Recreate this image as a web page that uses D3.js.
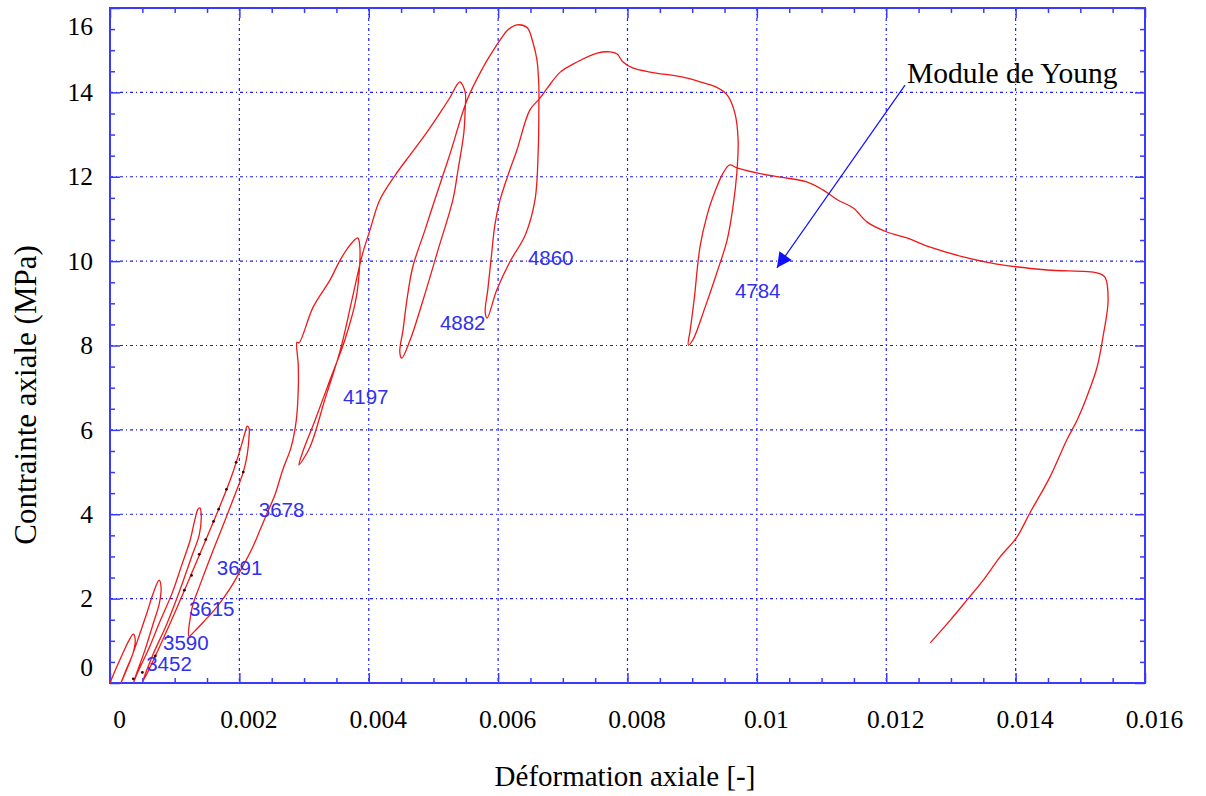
<!DOCTYPE html>
<html><head><meta charset="utf-8">
<script src="https://cdn.jsdelivr.net/npm/d3@7"></script>
<style>body{margin:0;background:#fff}</style>
</head><body>
<svg id="c" width="1206" height="796"></svg>
<script>
// ---- data ----
const xMajorTicks = [0,0.002,0.004,0.006,0.008,0.01,0.012,0.014,0.016];
const yMajorTicks = [0,2,4,6,8,10,12,14,16];
const xTitle = "Déformation axiale [-]";
const yTitle = "Contrainte axiale (MPa)";

const strain = [0,0.00009,0.00020,0.00029,0.00036,0.00039,0.00036,0.00028,0.00017,0.00023,0.00034,0.00046,0.00057,0.00066,0.00073,0.00076,
0.00079,0.00076,0.00066,0.00054,0.00043,0.00036,0.00043,0.00059,0.00077,0.00096,0.00111,0.00124,0.00131,0.00136,0.00139,
0.00141,0.00138,0.00127,0.00108,0.00087,0.00066,0.00051,0.00060,0.00080,0.00104,0.00127,0.00150,0.00172,0.00189,0.00201,0.00209,0.00212,0.00215,
0.00215,0.00212,0.00206,0.00190,0.00173,0.00156,0.00139,0.00128,0.00124,0.00122,
0.00131,0.00147,0.00165,0.00186,0.00204,0.00220,0.00232,0.00243,0.00255,0.00267,0.00280,0.00288,0.00291,0.00291,0.00289,
0.00292,0.00314,0.00340,0.00356,0.00371,0.00383,
0.00386,0.00386,0.00380,0.00363,0.00340,0.00317,0.00298,0.00292,
0.00309,0.00332,0.00356,0.00374,0.00390,0.00402,0.00417,0.00441,0.00464,0.00487,0.00510,0.00526,0.00536,0.00541,
0.00549,0.00549,0.00547,0.00538,0.00530,0.00507,0.00484,0.00464,0.00451,
0.00448,0.00453,0.00459,0.00468,0.00487,0.00502,0.00526,0.00552,0.00577,0.00591,0.00603,0.00615,0.00629,
0.00645,0.00654,0.00660,0.00663,0.00663,0.00662,0.00657,0.00642,0.00618,0.00598,0.00583,
0.00580,0.00584,0.00589,0.00595,0.00603,0.00618,0.00629,0.00649,0.00665,0.00676,0.00696,0.00722,0.00753,0.00773,0.00784,0.00793,0.00808,0.00835,0.00886,0.00912,0.00938,0.00954,0.00966,0.00971,
0.00969,0.00963,0.00954,0.00938,0.00920,0.00901,0.00894,
0.00897,0.00903,0.00912,0.00923,0.00932,0.00948,0.00958,0.00969,0.01000,0.01036,0.01077,0.01102,0.01125,0.01149,0.01170,0.01201,0.01232,0.01268,0.01319,0.01371,0.01449,0.01526,0.01538,
0.01543,0.01535,0.01526,0.01510,0.01495,0.01479,0.01453,0.01422,0.01402,0.01376,0.01350,0.01325,0.01299,0.01268];

const stress = [0,0.33,0.71,1.00,1.16,1.02,0.73,0.40,0,0.24,0.64,1.16,1.66,2.09,2.37,2.44,
2.25,1.87,1.37,0.78,0.31,0,0.26,0.78,1.45,2.13,2.80,3.39,3.86,4.12,4.15,
3.98,3.51,3.03,2.20,1.37,0.66,0.05,0.31,0.97,1.80,2.63,3.46,4.27,4.95,5.52,5.95,6.09,6.04,
5.85,5.40,5.00,4.34,3.67,3.01,2.32,1.85,1.54,1.11,
1.23,1.49,1.80,2.25,2.73,3.20,3.63,4.03,4.46,5.05,5.59,6.23,6.95,7.54,8.08,
8.06,8.91,9.55,10.03,10.38,10.55,
10.38,9.91,9.08,8.13,7.18,6.23,5.48,5.17,
5.59,6.71,7.89,9.08,10.15,10.74,11.45,12.04,12.52,12.99,13.51,13.89,14.17,14.25,
14.01,13.58,13.04,12.16,11.45,10.26,9.08,8.13,7.70,
7.85,8.37,9.08,9.86,10.74,11.45,12.56,13.82,14.60,14.96,15.24,15.48,15.60,
15.53,15.17,14.77,14.12,13.65,12.63,11.45,10.62,9.98,9.32,8.65,
8.79,9.32,10.03,10.86,11.45,12.16,12.63,13.58,13.87,14.10,14.48,14.72,14.93,14.96,14.91,14.72,14.58,14.48,14.36,14.25,14.12,13.94,13.51,12.87,
12.09,11.28,10.50,9.72,8.91,8.13,8.01,
8.37,9.08,10.33,11.09,11.52,12.09,12.28,12.21,12.09,11.99,11.88,11.69,11.45,11.26,10.93,10.69,10.55,10.33,10.10,9.93,9.79,9.72,9.62,
9.08,8.20,7.49,6.78,6.23,5.76,4.88,4.03,3.46,2.99,2.44,1.97,1.49,0.95];

// dark measurement points visible on the dense reloading branch
const markStrain = [0.00036,0.00050,0.00070,0.00090,0.00115,0.00126,0.00138,0.00148,0.00160,0.00168,0.00180,0.00195,0.00206];
const markStress = [0.10,0.25,0.64,1.10,2.20,2.55,3.05,3.40,3.83,4.12,4.59,5.23,5.00];

// Young's modulus labels for each loop (MPa)
const modulusText   = ["3452","3590","3615","3691","3678","4197","4882","4860","4784"];
const modulusStrain = [0.00056,0.00082,0.00122,0.00165,0.00230,0.00360,0.00510,0.00646,0.00966];
const modulusStress = [0.28,0.78,1.59,2.56,3.93,6.61,8.37,9.91,9.13];

const noteText = "Module de Young";
const noteAt = [0.01232, 14.22];
const arrowFrom = [0.01229, 14.17];
const arrowTo = [0.01031, 9.84];

// ---- layout ----
const L=110, R=1145, T=8, B=683;
const svg = d3.select("#c");
const x = d3.scaleLinear().domain([0,0.016]).range([L,R]);
const y = d3.scaleLinear().domain([0,16]).range([B,T]);
const frameColor = "#3a3aff", gridColor = "#1a1aff";
const serif = "'Liberation Serif','Times New Roman',serif";

const xMinor = d3.range(0,0.0160001,0.0005).filter(v=>!xMajorTicks.some(t=>Math.abs(t-v)<1e-9));
const yMinor = d3.range(0,16.0001,0.5).filter(v=>!yMajorTicks.some(t=>Math.abs(t-v)<1e-9));

// gridlines
const g = svg.append("g");
g.selectAll(".vg").data(xMajorTicks.slice(1,-1)).join("line")
  .attr("x1",d=>x(d)).attr("x2",d=>x(d)).attr("y1",T).attr("y2",B)
  .attr("stroke",gridColor).attr("stroke-width",1.2).attr("stroke-dasharray","3,3,1,3");
g.selectAll(".hg").data(yMajorTicks.slice(1,-1)).join("line")
  .attr("y1",d=>y(d)).attr("y2",d=>y(d)).attr("x1",L).attr("x2",R)
  .attr("stroke",gridColor).attr("stroke-width",1.2).attr("stroke-dasharray","3,3,1,3");

// axes ticks (inward) on all four sides
function styleAxis(sel){ sel.select(".domain").remove(); sel.selectAll("line").attr("stroke",frameColor).attr("stroke-width",1.5); }
svg.append("g").attr("transform",`translate(0,${B})`).call(d3.axisBottom(x).tickValues(xMinor).tickSize(-5).tickFormat("")).call(styleAxis);
svg.append("g").attr("transform",`translate(0,${T})`).call(d3.axisTop(x).tickValues(xMinor).tickSize(-5).tickFormat("")).call(styleAxis);
svg.append("g").attr("transform",`translate(0,${T})`).call(d3.axisTop(x).tickValues(xMajorTicks).tickSize(-10).tickFormat("")).call(styleAxis);
svg.append("g").attr("transform",`translate(${L},0)`).call(d3.axisLeft(y).tickValues(yMinor).tickSize(-5).tickFormat("")).call(styleAxis);
svg.append("g").attr("transform",`translate(${R},0)`).call(d3.axisRight(y).tickValues(yMinor).tickSize(-5).tickFormat("")).call(styleAxis);
svg.append("g").attr("transform",`translate(${R},0)`).call(d3.axisRight(y).tickValues(yMajorTicks).tickSize(-10).tickFormat("")).call(styleAxis);

const xAx = svg.append("g").attr("transform",`translate(0,${B})`)
  .call(d3.axisBottom(x).tickValues(xMajorTicks).tickSizeInner(-10).tickSizeOuter(0).tickPadding(27).tickFormat(d3.format("~g")))
  .call(styleAxis);
xAx.selectAll("text").attr("font-family",serif).attr("font-size",25.5).attr("fill","#000").attr("dx",9);

const yAx = svg.append("g").attr("transform",`translate(${L},0)`)
  .call(d3.axisLeft(y).tickValues(yMajorTicks).tickSizeInner(-10).tickSizeOuter(0).tickPadding(17))
  .call(styleAxis);
yAx.selectAll("text").attr("font-family",serif).attr("font-size",25.5).attr("fill","#000")
  .attr("dy",d=> d===16 ? "1.05em" : d===0 ? "-0.3em" : "0.32em");

// frame
svg.append("rect").attr("x",L).attr("y",T).attr("width",R-L).attr("height",B-T)
  .attr("fill","none").attr("stroke",frameColor).attr("stroke-width",2);

// curve
const pts = strain.map((s,i)=>[s,stress[i]]);
svg.append("path").datum(pts)
  .attr("d",d3.line().x(d=>x(d[0])).y(d=>y(d[1])).curve(d3.curveCatmullRom.alpha(0.5)))
  .attr("fill","none").attr("stroke","#f01818").attr("stroke-width",1.3).attr("stroke-linejoin","round");

svg.selectAll(".mk").data(markStrain).join("circle")
  .attr("cx",d=>x(d)).attr("cy",(d,i)=>y(markStress[i])).attr("r",1.4).attr("fill","#400000");

// modulus labels
svg.selectAll(".ml").data(modulusText).join("text")
  .attr("x",(d,i)=>x(modulusStrain[i])).attr("y",(d,i)=>y(modulusStress[i]))
  .attr("font-family","'Liberation Sans',Arial,sans-serif").attr("font-size",20.5)
  .attr("fill","#3030ee").text(d=>d);

// annotation
svg.append("defs").append("marker").attr("id","ah").attr("viewBox","0 0 10 10")
  .attr("refX",10).attr("refY",5).attr("markerWidth",22).attr("markerHeight",15).attr("markerUnits","userSpaceOnUse")
  .attr("orient","auto").append("path").attr("d","M0,0 L10,5 L0,10 z").attr("fill","#1010ff");
svg.append("line").attr("x1",x(arrowFrom[0])).attr("y1",y(arrowFrom[1]))
  .attr("x2",x(arrowTo[0])).attr("y2",y(arrowTo[1]))
  .attr("stroke","#1010ff").attr("stroke-width",1.2).attr("marker-end","url(#ah)");
svg.append("text").attr("x",x(noteAt[0])).attr("y",y(noteAt[1]))
  .attr("font-family",serif).attr("font-size",29.5).attr("fill","#000").text(noteText);

// titles
svg.append("text").attr("x",625).attr("y",786).attr("text-anchor","middle")
  .attr("font-family",serif).attr("font-size",29).attr("fill","#000").text(xTitle);
svg.append("text").attr("transform","translate(36,395) rotate(-90)").attr("text-anchor","middle")
  .attr("font-family",serif).attr("font-size",31).attr("fill","#000").text(yTitle);
</script>
</body></html>
